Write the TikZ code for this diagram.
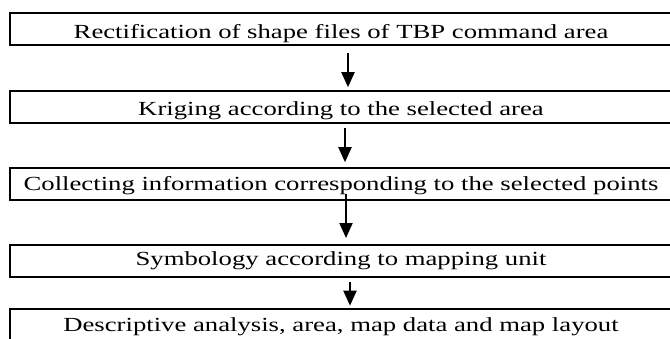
\documentclass[tikz,border=0pt]{standalone}
\usepackage{fontspec}
\setmainfont{Liberation Serif}
\usetikzlibrary{arrows.meta}
\newcommand{\stretchtext}[1]{\scalebox{1.335}[1]{#1}}
\begin{document}
\begin{tikzpicture}[x=1pt,y=-1pt,
  stepbox/.style={draw=black, line width=2pt, rectangle, minimum width=662pt,
    minimum height=32pt, inner sep=0pt, text depth=0pt,
    font=\fontsize{20}{24}\selectfont},
  flow/.style={line width=2pt, -{Triangle[width=13pt,length=15pt]}}]
\clip (0,0) rectangle (670,338);
\useasboundingbox (0,0) rectangle (670,338);
\node[stepbox, text height=18pt] (b1) at (341,29.3)
  {\stretchtext{Rectification of shape files of TBP command area}};
\node[stepbox, text height=16pt] (b2) at (341,107.2)
  {\stretchtext{Kriging according to the selected area}};
\node[stepbox, text height=12pt] (b3) at (341,184.2)
  {\stretchtext{Collecting information corresponding to the selected points}};
\node[stepbox, text height=8pt] (b4) at (341,261)
  {\stretchtext{Symbology according to mapping unit}};
\node[stepbox, text height=14pt] (b5) at (341,324.7)
  {\stretchtext{Descriptive analysis, area, map data and map layout}};
\draw[flow] ([xshift=7pt,yshift=-7pt]b1.south) -- ([xshift=7pt,yshift=3pt]b2.north);
\draw[flow] ([xshift=4pt,yshift=-4pt]b2.south) -- ([xshift=4pt,yshift=5pt]b3.north);
\draw[flow] ([xshift=5pt,yshift=7pt]b3.south) -- ([xshift=5pt,yshift=6pt]b4.north);
\draw[flow] ([xshift=9pt,yshift=-4pt]b4.south) -- ([xshift=9pt,yshift=2pt]b5.north);
\end{tikzpicture}
\end{document}
